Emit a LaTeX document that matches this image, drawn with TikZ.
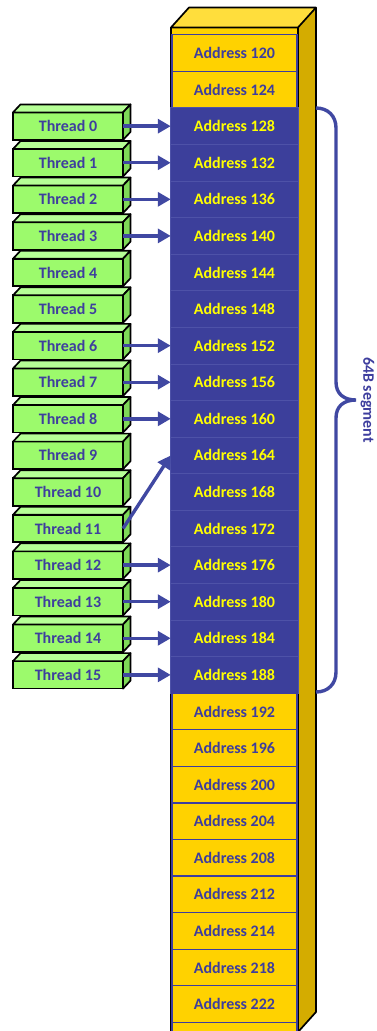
\documentclass[tikz,border=0pt]{standalone}
\usepackage{fontspec}
\setmainfont{Carlito}
\usetikzlibrary{arrows.meta}
\definecolor{gold}{RGB}{255,210,0}
\definecolor{goldside}{RGB}{212,172,0}
\definecolor{goldtop}{RGB}{255,222,60}
\definecolor{segblue}{RGB}{60,63,155}
\definecolor{sepblue}{RGB}{78,82,168}
\definecolor{txtblue}{RGB}{62,62,158}
\definecolor{arrblue}{RGB}{64,72,162}
\definecolor{gfront}{RGB}{156,250,108}
\definecolor{gtop}{RGB}{182,255,150}
\definecolor{gside}{RGB}{126,217,87}
\definecolor{txtyellow}{RGB}{255,255,0}
\begin{document}
\begin{tikzpicture}[x=1pt,y=-1pt,
  font=\fontsize{16}{19}\selectfont\bfseries,
  ycell/.style={draw=txtblue, line width=1.2pt, fill=gold, text=txtblue,
    minimum width=125pt, minimum height=36.58pt, inner sep=0pt, outer sep=0pt},
  bcell/.style={draw=sepblue, line width=0.8pt, fill=segblue, text=txtyellow,
    minimum width=127.5pt, minimum height=36.58pt, inner sep=0pt, outer sep=0pt},
  thread/.style={draw=black, line width=1.7pt, fill=gfront, text=txtblue,
    minimum width=110pt, minimum height=27.5pt, inner sep=0pt, outer sep=0pt},
  facetop/.style={draw=black, line width=1.7pt, fill=gtop, line join=round},
  faceside/.style={draw=black, line width=1.7pt, fill=gside, line join=round},
  arr/.style={draw=arrblue, line width=3.4pt, -{Triangle[length=13pt,width=14pt]}},
  brace/.style={draw=arrblue, line width=3.4pt}
]
\useasboundingbox (0,0) rectangle (377,1031);
\clip (0,0) rectangle (377,1031);
% memory column (3D)
\fill[gold] (171,27.5) rectangle (298,1045);
\fill[goldtop] (171,27.5) -- (189,7.5) -- (316,7.5) -- (298,27.5) -- cycle;
\fill[goldside] (298,27.5) -- (316,7.5) -- (316,1012) -- (298,1032) -- cycle;
\draw[black, line width=1.7pt, line join=round]
  (171,1045) -- (171,27.5) -- (189,7.5) -- (316,7.5) -- (316,1012) -- (298,1032)
  (171,27.5) -- (298,27.5) -- (316,7.5)
  (298,27.5) -- (298,1045);
% address cells
\foreach \a [count=\k from 0] in {120,124,128,132,136,140,144,148,152,156,160,164,168,172,176,180,184,188,192,196,200,204,208,212,214,218,222}{
  \pgfmathsetmacro\yc{53+36.58*\k}
  \ifnum\k<2
    \node[ycell] (a\a) at (234.5,\yc) {Address \a};
  \else\ifnum\k<18
    \node[bcell] (a\a) at (234.5,\yc) {Address \a};
  \else
    \node[ycell] (a\a) at (234.5,\yc) {Address \a};
  \fi\fi
}
\node[ycell] (aend) at (234.5,{53+36.58*27}) {};
% threads
\foreach \i in {0,...,15}{
  \pgfmathsetmacro\yc{53+36.58*(\i+2)}
  \node[thread] (t\i) at (68,\yc) {Thread \i};
  \path[facetop] (t\i.north west) -- ([shift={(7.5,-8)}]t\i.north west)
    -- ([shift={(7.5,-8)}]t\i.north east) -- (t\i.north east) -- cycle;
  \path[faceside] (t\i.north east) -- ([shift={(7.5,-8)}]t\i.north east)
    -- ([shift={(7.5,-8)}]t\i.south east) -- (t\i.south east) -- cycle;
}
% accesses
\draw[arr] (t0.east) -- (a128.west);
\draw[arr] (t1.east) -- (a132.west);
\draw[arr] (t2.east) -- (a136.west);
\draw[arr] (t3.east) -- (a140.west);
\draw[arr] (t6.east) -- (a152.west);
\draw[arr] (t7.east) -- (a156.west);
\draw[arr] (t8.east) -- (a160.west);
\draw[arr] (t11.east) -- (a164.west);
\draw[arr] (t12.east) -- (a176.west);
\draw[arr] (t13.east) -- (a180.west);
\draw[arr] (t14.east) -- (a184.west);
\draw[arr] (t15.east) -- (a188.west);
% brace
\coordinate (btop) at (316,108);
\coordinate (bbot) at (316,692);
\draw[brace] (btop) .. controls (328,108) and (336,116) .. (336,128) -- (336,382)
  .. controls (336,394) and (344,400) .. (356,400)
  .. controls (344,400) and (336,406) .. (336,418) -- (336,672)
  .. controls (336,684) and (328,692) .. (bbot);
\node[rotate=-90, text=txtblue, inner sep=0pt] (seg) at (367.5,400) {64B segment};
\end{tikzpicture}
\end{document}
